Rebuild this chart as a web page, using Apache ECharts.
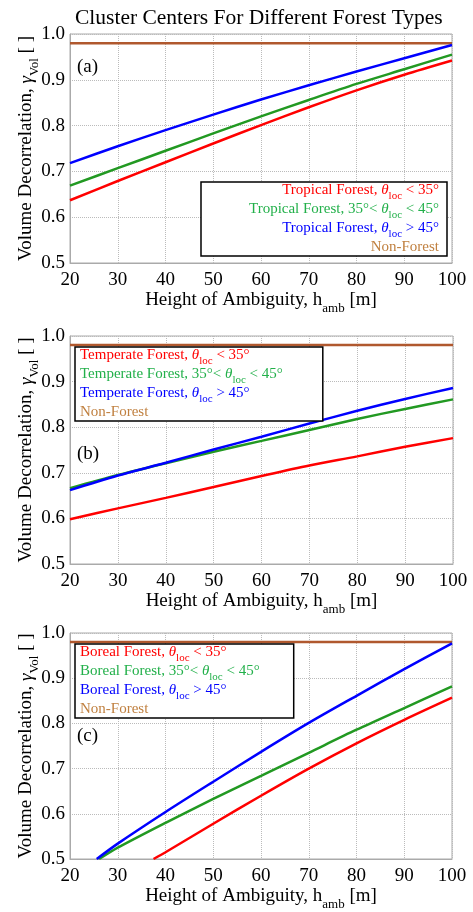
<!DOCTYPE html>
<html>
<head>
    <meta charset="UTF-8">
    <title>Cluster Centers For Different Forest Types</title>
    <script src="https://cdn.jsdelivr.net/npm/echarts/dist/echarts.min.js"></script>
    <style>
        html, body { margin: 0; padding: 0; background: #fff; }
        #main { width: 473px; height: 912px; }
    </style>
</head>
<body>
    <div id="main"></div>

    <script type="text/javascript">
        // height of ambiguity [m]
        const hAmb = [20, 30, 40, 50, 60, 70, 80, 90, 100];
        const nonForest = [0.98, 0.98, 0.98, 0.98, 0.98, 0.98, 0.98, 0.98, 0.98];

        // (a) tropical
        const tropLow  = [0.637, 0.679, 0.720, 0.761, 0.801, 0.840, 0.877, 0.911, 0.942];
        const tropMid  = [0.669, 0.707, 0.745, 0.783, 0.820, 0.856, 0.891, 0.923, 0.955];
        const tropHigh = [0.718, 0.755, 0.790, 0.824, 0.857, 0.888, 0.918, 0.947, 0.976];

        // (b) temperate
        const tempLow  = [0.598, 0.622, 0.645, 0.669, 0.693, 0.716, 0.736, 0.757, 0.776];
        const tempMid  = [0.666, 0.695, 0.721, 0.746, 0.770, 0.794, 0.818, 0.840, 0.861];
        const tempHigh = [0.662, 0.694, 0.722, 0.751, 0.779, 0.808, 0.836, 0.862, 0.886];

        // (c) boreal - curves enter the plot at 0.5
        const borLowX  = [37.5, 40, 50, 60, 70, 80, 90, 100];
        const borLow   = [0.5, 0.515, 0.578, 0.640, 0.700, 0.756, 0.808, 0.857];
        const borMidX  = [26.1, 30, 40, 50, 60, 70, 80, 90, 100];
        const borMid   = [0.5, 0.525, 0.580, 0.633, 0.684, 0.735, 0.786, 0.834, 0.882];
        const borHighX = [25.6, 30, 40, 50, 60, 70, 80, 90, 100];
        const borHigh  = [0.5, 0.534, 0.604, 0.671, 0.737, 0.801, 0.861, 0.920, 0.977];

        const FONT = 'Liberation Serif';
        const lineColors = { low: '#ff0000', mid: '#229922', high: '#0000ff', non: '#b0582e' };
        const textColors = { low: '#ff0000', mid: '#22b04a', high: '#0000ff', non: '#c08040' };

        function pairs(xs, ys) {
            return ys.map((v, i) => [xs[i], v]);
        }

        var myChart = echarts.init(document.getElementById('main'));

        const grids = [
            { left: 70, right: 21, top: 34, height: 229 },
            { left: 70, right: 20, top: 336, height: 228 },
            { left: 70, right: 21, top: 633, height: 228 }
        ];

        const subRich = {
            m: { fontFamily: FONT, fontSize: 19, lineHeight: 22, verticalAlign: 'top' },
            g: { fontFamily: FONT, fontSize: 19, lineHeight: 22, verticalAlign: 'top', fontStyle: 'italic' },
            s: { fontFamily: FONT, fontSize: 13, lineHeight: 13, padding: [11, 0, 0, 0], verticalAlign: 'top' }
        };

        const xAxes = grids.map((g, i) => ({
            type: 'value',
            gridIndex: i,
            min: 20,
            max: 100,
            interval: 10,
            name: '{m|Height of Ambiguity, h}{s|amb}{m| [m]}',
            nameLocation: 'middle',
            nameGap: 28,
            nameTextStyle: { color: '#000', rich: subRich },
            axisLine: { lineStyle: { color: '#aaa' } },
            axisTick: { show: false },
            axisLabel: { fontFamily: FONT, fontSize: 19, color: '#000', margin: 8 },
            splitLine: { show: true, lineStyle: { color: '#bbb', type: 'dotted' } }
        }));

        const yAxes = grids.map((g, i) => ({
            type: 'value',
            gridIndex: i,
            min: 0.5,
            max: 1.0,
            interval: 0.1,
            name: '{m|Volume Decorrelation, }{g|γ}{s|Vol}{m| [ ]}',
            nameLocation: 'middle',
            nameGap: 31,
            nameMoveOverlap: false,
            nameTextStyle: { color: '#000', rich: subRich },
            axisLine: { lineStyle: { color: '#aaa' } },
            axisTick: { show: false },
            axisLabel: {
                fontFamily: FONT, fontSize: 19, color: '#000', margin: 5,
                formatter: v => v.toFixed(1)
            },
            splitLine: { show: true, lineStyle: { color: '#bbb', type: 'dotted' } }
        }));

        function line(name, data, idx, color) {
            return {
                name: name,
                type: 'line',
                xAxisIndex: idx,
                yAxisIndex: idx,
                data: data,
                smooth: 0.3,
                showSymbol: false,
                lineStyle: { width: 2.5, color: color },
                itemStyle: { color: color },
                silent: true
            };
        }

        const groups = ['Tropical', 'Temperate', 'Boreal'];
        const series = [
            line('Non-Forest', pairs(hAmb, nonForest), 0, lineColors.non),
            line('Tropical low', pairs(hAmb, tropLow), 0, lineColors.low),
            line('Tropical mid', pairs(hAmb, tropMid), 0, lineColors.mid),
            line('Tropical high', pairs(hAmb, tropHigh), 0, lineColors.high),
            line('Non-Forest', pairs(hAmb, nonForest), 1, lineColors.non),
            line('Temperate low', pairs(hAmb, tempLow), 1, lineColors.low),
            line('Temperate mid', pairs(hAmb, tempMid), 1, lineColors.mid),
            line('Temperate high', pairs(hAmb, tempHigh), 1, lineColors.high),
            line('Non-Forest', pairs(hAmb, nonForest), 2, lineColors.non),
            line('Boreal low', pairs(borLowX, borLow), 2, lineColors.low),
            line('Boreal mid', pairs(borMidX, borMid), 2, lineColors.mid),
            line('Boreal high', pairs(borHighX, borHigh), 2, lineColors.high)
        ];

        // legend labels with theta_loc subscript
        const legRich = {
            m: { fontFamily: FONT, fontSize: 15, lineHeight: 17, verticalAlign: 'top' },
            t: { fontFamily: FONT, fontSize: 15, lineHeight: 17, verticalAlign: 'top', fontStyle: 'italic' },
            s: { fontFamily: FONT, fontSize: 11, lineHeight: 9, padding: [8, 0, 0, 0], verticalAlign: 'top' }
        };
        function legLabel(name) {
            const parts = name.split(' ');
            const grp = parts[0], kind = parts[1];
            if (!kind) return '{m|' + name + '}';
            if (kind === 'low') return '{m|' + grp + ' Forest, }{t|θ}{s|loc}{m| < 35°}';
            if (kind === 'mid') return '{m|' + grp + ' Forest, 35°< }{t|θ}{s|loc}{m| < 45°}';
            return '{m|' + grp + ' Forest, }{t|θ}{s|loc}{m| > 45°}';
        }

        const legendPos = [
            { right: 26, top: 182, align: 'right', padding: [1, 3, 1, 48] },
            { left: 75, top: 347, align: 'left', padding: [1, 40, 1, 0] },
            { left: 75, top: 644, align: 'left', padding: [1, 34, 1, 0] }
        ];
        const legends = groups.map((grp, i) => Object.assign({
            orient: 'vertical',
            selectedMode: false,
            itemWidth: 0,
            itemHeight: 0,
            itemGap: 0,
            icon: 'rect',
            borderColor: '#000',
            borderWidth: 1.5,
            borderRadius: 0,
            backgroundColor: '#fff',
            formatter: legLabel,
            textStyle: { rich: legRich },
            data: [
                { name: grp + ' low', textStyle: { color: textColors.low } },
                { name: grp + ' mid', textStyle: { color: textColors.mid } },
                { name: grp + ' high', textStyle: { color: textColors.high } },
                { name: 'Non-Forest', textStyle: { color: textColors.non } }
            ]
        }, legendPos[i]));

        const panelTags = [['(a)', 69], ['(b)', 456], ['(c)', 738]];

        var option = {
            backgroundColor: '#fff',
            animation: false,
            title: {
                text: 'Cluster Centers For Different Forest Types',
                left: 70,
                top: 2,
                textStyle: { fontFamily: FONT, fontSize: 21.5, fontWeight: 'normal', color: '#000' }
            },
            grid: grids.map(g => Object.assign({ show: true, borderColor: '#aaa', borderWidth: 1 }, g)),
            xAxis: xAxes,
            yAxis: yAxes,
            legend: legends,
            graphic: panelTags.map(p => ({
                type: 'text',
                left: 77,
                top: p[1] - 11,
                style: { text: p[0], fontFamily: FONT, fontSize: 19, fill: '#000' }
            })),
            series: series
        };

        myChart.setOption(option);
    </script>
</body>
</html>
